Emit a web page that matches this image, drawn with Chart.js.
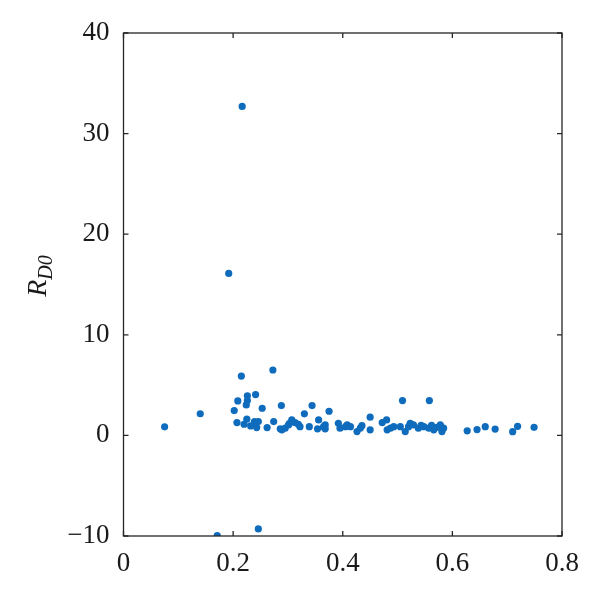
<!DOCTYPE html>
<html>
<head>
<meta charset="utf-8">
<script src="https://cdn.jsdelivr.net/npm/chart.js@4/dist/chart.umd.min.js"></script>
<style>
html,body{margin:0;padding:0;background:#fff;}
#wrap{width:600px;height:592px;}
</style>
</head>
<body>
<div id="wrap"><canvas id="scatterChart" width="600" height="592"></canvas></div>
<script>
// values
let xValues = [0.075,0.140,0.171,0.192,0.2165,0.215,0.2725,0.246,0.2085,0.226,0.241,0.226,0.224,0.202,0.253,0.288,
0.207,0.225,0.220,0.232,0.239,0.246,0.243,0.262,0.274,0.286,0.295,0.303,0.289,0.301,0.307,0.313,0.319,0.322,
0.330,0.344,0.339,0.354,0.356,0.365,0.368,0.368,0.375,0.392,0.395,0.405,0.408,0.414,0.426,0.432,0.435,0.450,
0.450,0.472,0.480,0.481,0.487,0.493,0.505,0.509,0.514,0.520,0.523,0.529,0.538,0.543,0.548,0.557,0.558,0.562,
0.566,0.572,0.578,0.581,0.584,0.627,0.645,0.660,0.678,0.710,0.719,0.749];
let yValues = [0.85,2.15,-9.95,16.1,32.7,5.9,6.5,-9.3,3.43,3.93,4.06,3.46,3.03,2.47,2.70,2.96,
1.27,1.61,1.11,0.94,1.37,1.37,0.78,0.78,1.37,0.65,0.72,1.21,0.55,1.04,1.54,1.27,1.11,0.87,
2.14,2.96,0.87,0.65,1.54,0.87,1.04,0.65,2.40,1.21,0.72,0.87,1.04,0.87,0.38,0.72,0.97,1.81,
0.55,1.27,1.54,0.55,0.72,0.87,0.87,3.46,0.38,0.87,1.21,1.04,0.72,1.0,0.87,0.72,3.46,1.0,
0.55,0.8,1.04,0.38,0.72,0.45,0.58,0.87,0.63,0.37,0.9,0.8];
let xTicks = [0,0.2,0.4,0.6,0.8];
let yTicks = [-10,0,10,20,30,40];

let points = xValues.map((x,i)=>({x:x,y:yValues[i]}));

const tickFont = {family:"'Liberation Serif', 'DejaVu Serif', serif", size:27};

// inward ticks on all four sides + y label with subscript
const frameTicks = {
id:"frameTicks",
afterDraw(chart){
const ctx = chart.ctx;
const a = chart.chartArea;
const xs = chart.scales.x, ys = chart.scales.y;
ctx.save();
ctx.strokeStyle = "#262626";
ctx.lineWidth = 1.3;
ctx.strokeRect(a.left, a.top, a.right-a.left, a.bottom-a.top);
const len = 5;
ctx.beginPath();
xTicks.forEach(v=>{
let p = xs.getPixelForValue(v);
ctx.moveTo(p, a.bottom); ctx.lineTo(p, a.bottom-len);
ctx.moveTo(p, a.top); ctx.lineTo(p, a.top+len);
});
yTicks.forEach(v=>{
let p = ys.getPixelForValue(v);
ctx.moveTo(a.left, p); ctx.lineTo(a.left+len, p);
ctx.moveTo(a.right, p); ctx.lineTo(a.right-len, p);
});
ctx.stroke();

// R_D0 axis title
ctx.translate(46, 276);
ctx.rotate(-Math.PI/2);
ctx.fillStyle = "#1a1a1a";
ctx.textBaseline = "alphabetic";
ctx.font = "italic 28px 'Liberation Serif', serif";
let wR = ctx.measureText("R").width;
ctx.font = "italic 20px 'Liberation Serif', serif";
let wS = ctx.measureText("D0").width;
let start = -(wR+wS)/2;
ctx.font = "italic 28px 'Liberation Serif', serif";
ctx.fillText("R", start, 0);
ctx.font = "italic 20px 'Liberation Serif', serif";
ctx.fillText("D0", start+wR, 6);
ctx.restore();
}
};

new Chart(document.getElementById("scatterChart"),{
type:"scatter",
data:{
datasets:[{
data:points,
backgroundColor:"#0f6cbd",
borderWidth:0,
pointRadius:3.6,
pointHoverRadius:3.6
}]
},
options:{
responsive:false,
animation:false,
events:[],
layout:{padding:{top:33,right:38,left:0,bottom:0}},
plugins:{legend:{display:false},tooltip:{enabled:false}},
scales:{
x:{
type:"linear",
min:0,max:0.8,
afterFit(scale){ scale.height = 56; },
afterBuildTicks(scale){ scale.ticks = xTicks.map(v=>({value:v})); },
grid:{display:false,drawTicks:false},
border:{display:false},
ticks:{font:tickFont,color:"#1a1a1a",padding:12,maxRotation:0,
callback:v=>v===0?"0":v.toFixed(1)}
},
y:{
type:"linear",
min:-10,max:40,
afterFit(scale){ scale.width = 123.5; },
afterBuildTicks(scale){ scale.ticks = yTicks.map(v=>({value:v})); },
grid:{display:false,drawTicks:false},
border:{display:false},
ticks:{font:tickFont,color:"#1a1a1a",padding:14,
callback:v=>v<0?"\u2212"+Math.abs(v):String(v)}
}
}
},
plugins:[frameTicks]
});
</script>
</body>
</html>
